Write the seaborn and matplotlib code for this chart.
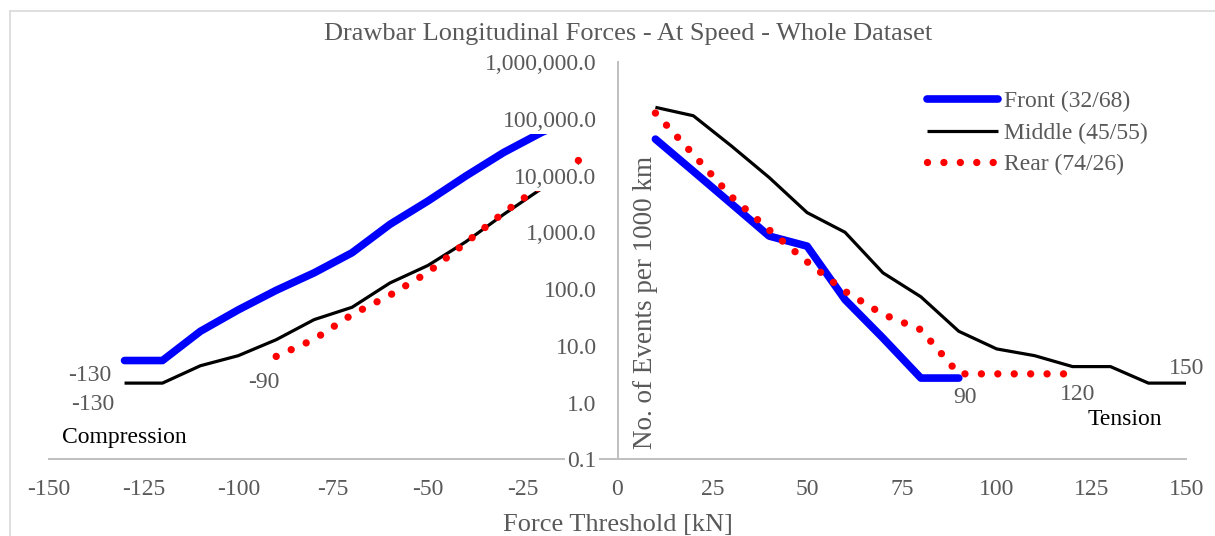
import numpy as np
import pandas as pd
import matplotlib
matplotlib.use("Agg")
import matplotlib.pyplot as plt
from matplotlib.lines import Line2D
from matplotlib.ticker import NullLocator
import seaborn as sns

### DATA

force_left = [-130, -120, -110, -100, -90, -80, -70, -60, -50, -40, -30, -20, -10]
front_left = [5.5, 5.5, 18, 43, 95, 193, 436, 1380, 3550, 9800, 25500, 57500, 112000]
middle_left = [2.2, 2.2, 4.45, 6.7, 12.8, 28.9, 47.7, 128, 260, 680, 2070, 5890, 15000]

rear_force_left = [-90, -80, -70, -60, -50, -40, -30, -20, -10]
rear_left = [6.5, 13, 35.5, 78, 196, 655, 2220, 6700, 19000]

front_force_right = [10, 20, 30, 40, 50, 60, 70, 80, 90]
front_right = [43800, 11900, 3200, 857, 570, 65, 13.7, 2.7, 2.7]

middle_force_right = [10, 20, 30, 40, 50, 60, 70, 80, 90, 100, 110, 120, 130, 140, 150]
middle_right = [159000, 113000, 33300, 9220, 2220, 1000, 193, 73, 18, 8.8, 6.7, 4.3, 4.3, 2.2, 2.2]

rear_force_right = [10, 20, 30, 40, 50, 60, 70, 80, 90, 100, 110, 120]
rear_right = [126000, 23500, 4260, 1100, 302, 91, 35.9, 19.2, 3.2, 3.2, 3.2, 3.2]

series_names = ['Front (32/68)', 'Middle (45/55)', 'Rear (74/26)']
x_ticks = [-150, -125, -100, -75, -50, -25, 0, 25, 50, 75, 100, 125, 150]
y_ticks = [0.1, 1, 10, 100, 1000, 10000, 100000, 1000000]

# end-of-series labels: (text, x, y, dx px, dy px, ha)
end_labels = [
    ('-130', -130, 5.5, -13, -15, 'right'),
    ('-130', -130, 2.2, -10, -21, 'right'),
    ('-90', -90, 6.5, -12, -26, 'center'),
    ('90', 90, 2.7, 6, -19, 'center'),
    ('120', 120, 3.2, 5, -21, 'center'),
    ('150', 150, 2.2, 0, 15, 'center'),
]

### STYLE

sns.set_theme(style='white')
plt.rcParams['font.family'] = ['Liberation Serif', 'DejaVu Sans']
plt.rcParams['axes.unicode_minus'] = False

grey = '#595959'
axis_grey = '#BFBFBF'

front_kw = dict(color='#0000FF', lw=5.5, solid_capstyle='round', solid_joinstyle='round')
middle_kw = dict(color='black', lw=2.3, solid_capstyle='butt', solid_joinstyle='round')
rear_kw = dict(color='#FF0000', lw=5.3, linestyle=(0, (0.001, 2.23)), dash_capstyle='round')

fig = plt.figure(figsize=(12.15, 5.36), dpi=100)
ax = fig.add_axes([48.7/1215, 76.7/536, 1137.6/1215, 397.3/536])

sns.lineplot(x=force_left, y=front_left, ax=ax, sort=False, **front_kw)
sns.lineplot(x=front_force_right, y=front_right, ax=ax, sort=False, **front_kw)
sns.lineplot(x=force_left, y=middle_left, ax=ax, sort=False, **middle_kw)
sns.lineplot(x=middle_force_right, y=middle_right, ax=ax, sort=False, **middle_kw)
sns.lineplot(x=rear_force_left, y=rear_left, ax=ax, sort=False, **rear_kw)
sns.lineplot(x=rear_force_right, y=rear_right, ax=ax, sort=False, **rear_kw)

# y axis crosses at x = 0, like the Excel original
ax.spines['left'].set_position(('data', 0))
ax.spines['top'].set_visible(False)
ax.spines['right'].set_visible(False)
for s in ['left', 'bottom']:
    ax.spines[s].set_color(axis_grey)
    ax.spines[s].set_linewidth(1.4)

ax.set_yscale('log')
ax.set_xlim(-150, 150)
ax.set_ylim(0.1, 1e6)
ax.set_xticks(x_ticks)
ax.set_xticklabels([str(v) for v in x_ticks])
ax.set_yticks(y_ticks)
ax.set_yticklabels([f'{v:,.1f}' for v in y_ticks])
ax.yaxis.set_minor_locator(NullLocator())
ax.tick_params(axis='x', length=0, pad=14.5, labelsize=17, labelcolor=grey)
ax.tick_params(axis='y', length=0, pad=15, labelsize=17, labelcolor=grey)

# value labels sit on white boxes above the lines (hides the ends of the left curves)
ax.set_axisbelow(False)
for t in ax.get_yticklabels():
    t.set_bbox(dict(facecolor='white', edgecolor='none', pad=1.5))

ax.set_xlabel('Force Threshold [kN]', fontsize=19, color=grey)
ax.xaxis.set_label_coords(0.5, -0.1377)
ax.set_ylabel('No. of Events per 1000 km', fontsize=19.5, color=grey)
ax.yaxis.set_label_coords(0.5356, 0.3947)

for txt, x, y, dx, dy, ha in end_labels:
    ax.annotate(txt, xy=(x, y), xytext=(dx, dy), textcoords='offset pixels',
                ha=ha, va='center', fontsize=17, color=grey)

ax.text(0.0666, 0.0537, 'Compression', transform=ax.transAxes, ha='center', va='center',
        fontsize=17, color='black')
ax.text(0.9457, 0.099, 'Tension', transform=ax.transAxes, ha='center', va='center',
        fontsize=17, color='black')

handles = [Line2D([], [], **front_kw), Line2D([], [], **middle_kw), Line2D([], [], **rear_kw)]
leg = ax.legend(handles, series_names, loc='upper left', bbox_to_anchor=(927/1215, 1-91/536),
                bbox_transform=fig.transFigure, frameon=False, fontsize=17, handlelength=3.0,
                handletextpad=0.25, labelspacing=0.42, borderpad=0, borderaxespad=0)
for t in leg.get_texts():
    t.set_color(grey)

fig.text(628/1215, 1-34/536, 'Drawbar Longitudinal Forces - At Speed - Whole Dataset',
         ha='center', va='center', fontsize=19, color=grey)

# chart area border (only top and left edges fall inside the picture)
fig.add_artist(Line2D([10/1215, 1], [1-11/536, 1-11/536], transform=fig.transFigure,
                      color='#D9D9D9', lw=1.2))
fig.add_artist(Line2D([10/1215, 10/1215], [0, 1-11/536], transform=fig.transFigure,
                      color='#D9D9D9', lw=1.2))

fig.savefig('out.png', dpi=100, facecolor='white')
